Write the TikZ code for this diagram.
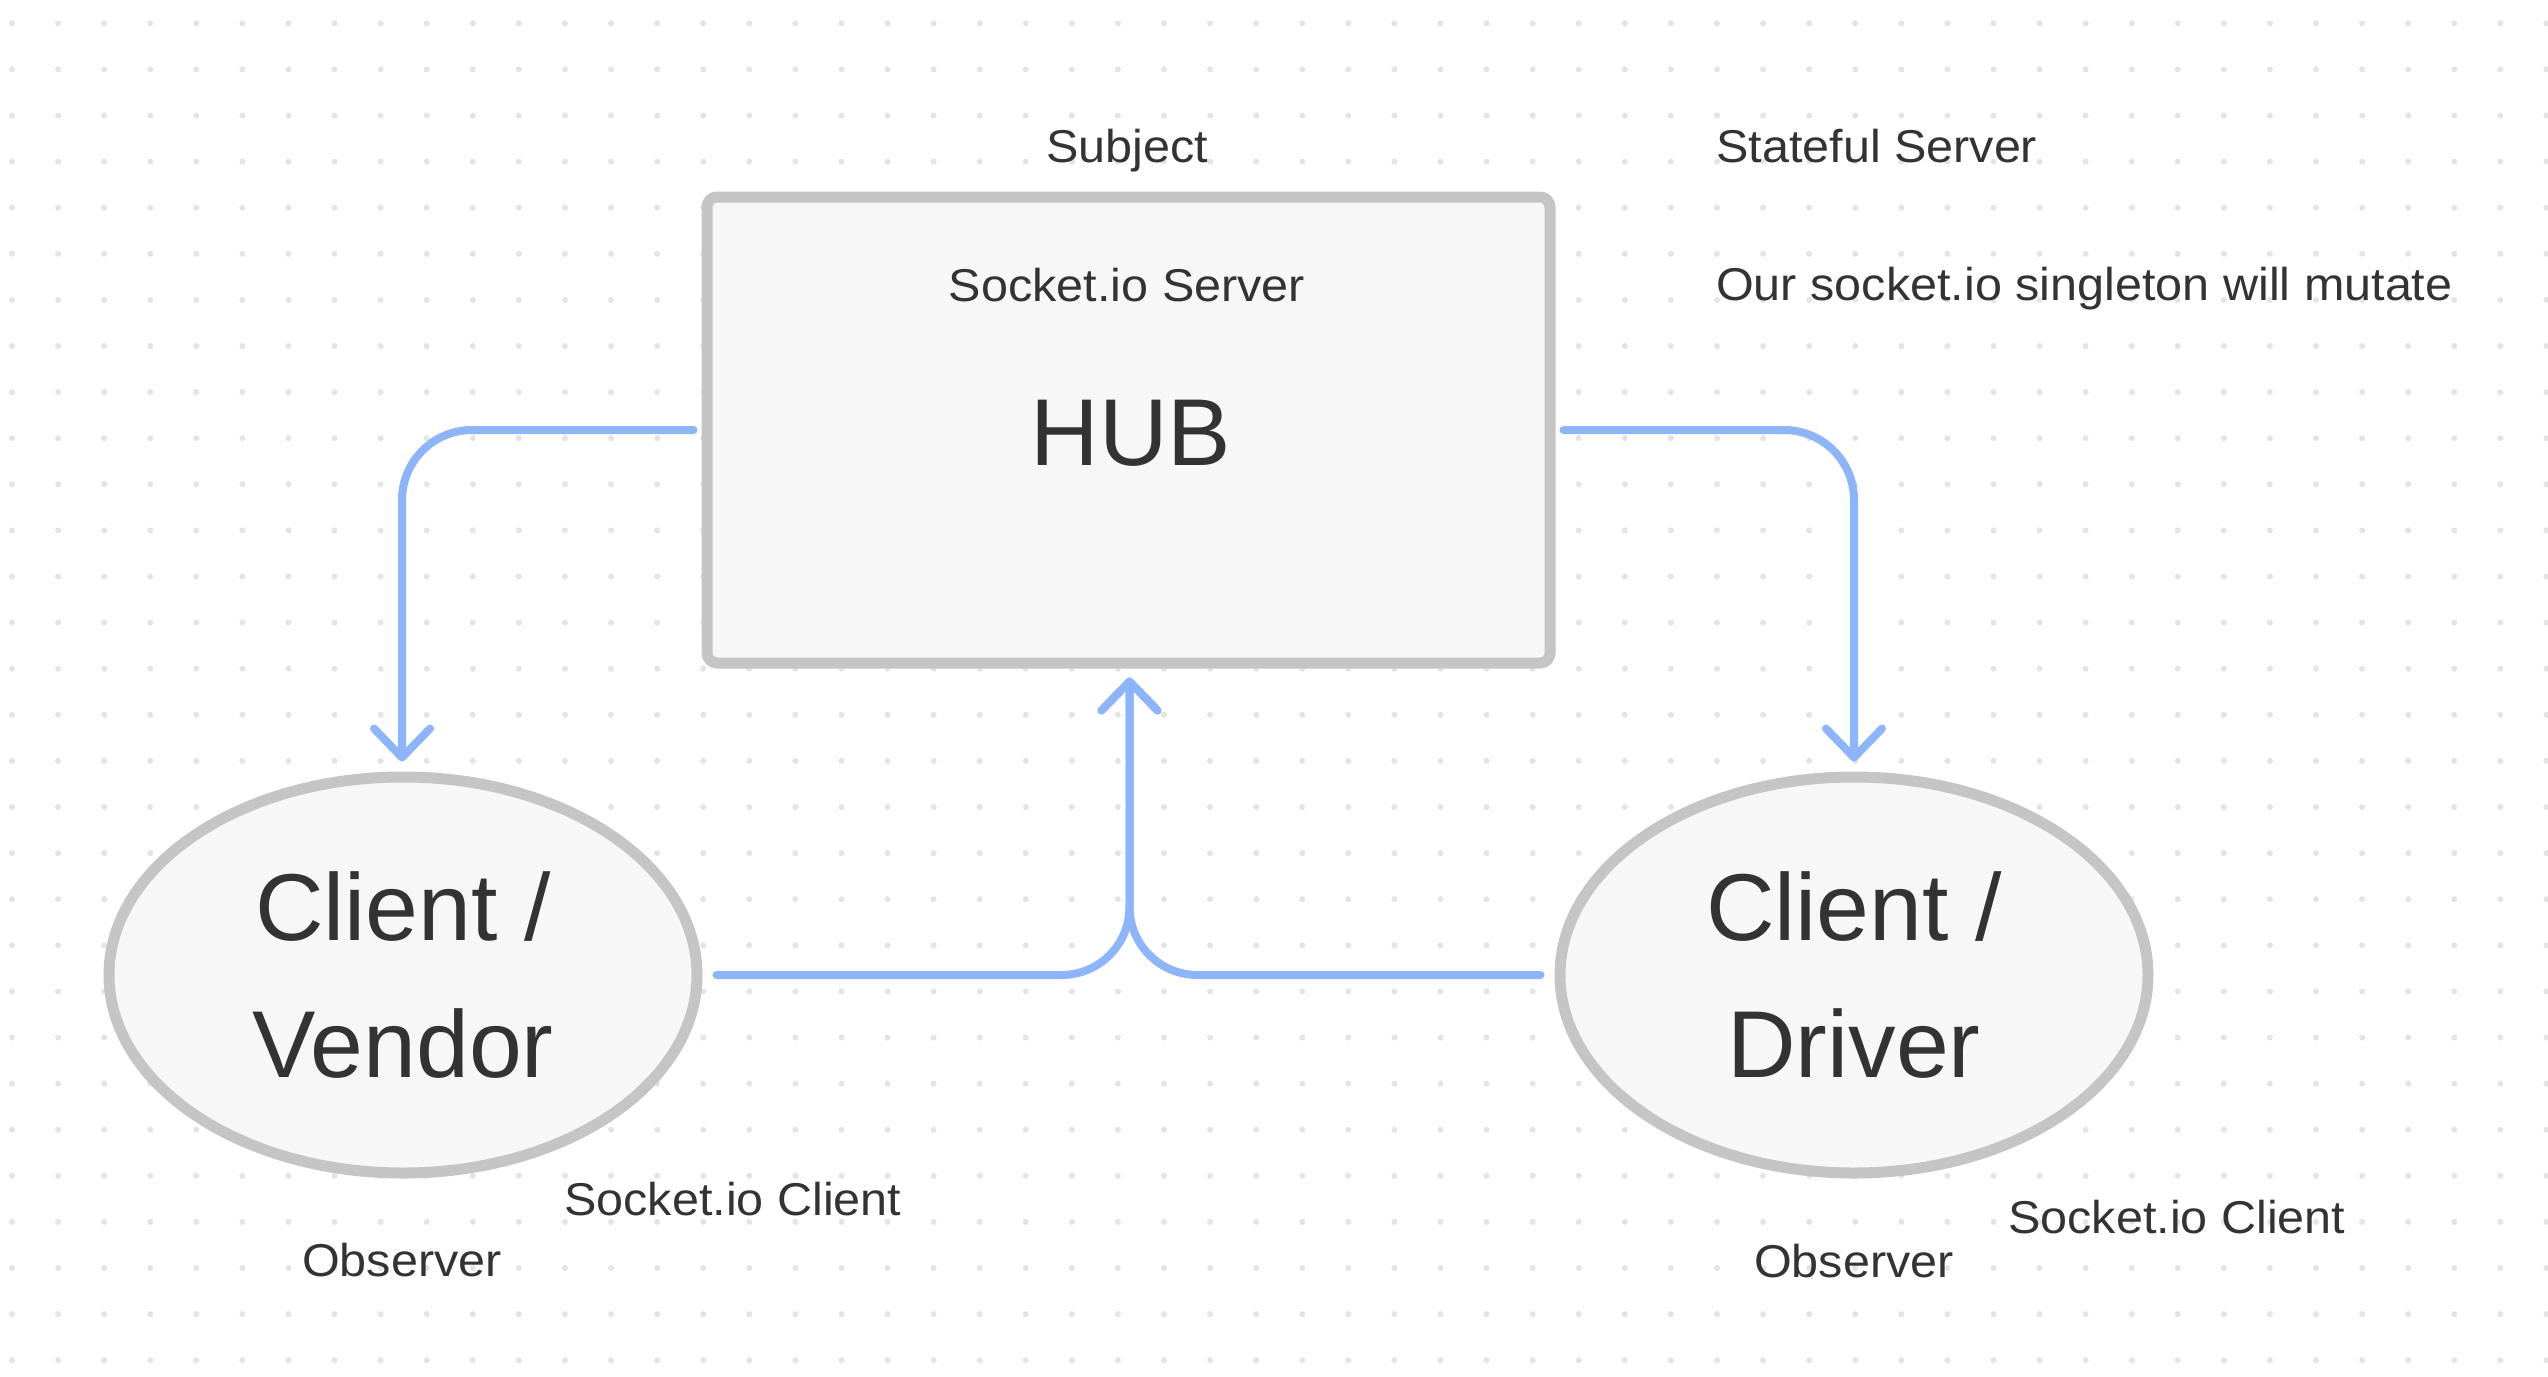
\documentclass[tikz,border=0pt]{standalone}
\usepackage{fontspec}
\setmainfont{Liberation Sans}
\newfontfamily\smallf{Liberation Sans}[FakeStretch=1.055]
\usetikzlibrary{shapes.geometric,arrows.meta,calc}
\definecolor{dotc}{HTML}{E4E4E4}
\definecolor{edgec}{HTML}{C5C5C5}
\definecolor{fillc}{HTML}{F7F7F7}
\definecolor{bluec}{HTML}{8DB5FC}
\definecolor{textc}{HTML}{333333}
\tikzset{
  boxst/.style={draw=edgec, fill=fillc, line width=11pt, rounded corners=10pt, inner sep=0pt},
  ellst/.style={ellipse, draw=edgec, fill=fillc, line width=11pt, inner sep=0pt,
    minimum width=588pt, minimum height=396pt, align=center, text=textc,
    font=\fontsize{95}{137}\selectfont},
  smalltxt/.style={text=textc, inner sep=0pt, font=\smallf\fontsize{46}{55}\selectfont},
  bigtxt/.style={text=textc, inner sep=0pt, font=\fontsize{95}{137}\selectfont},
  conn/.style={draw=bluec, line width=8pt, line cap=round, line join=round,
    rounded corners=70pt, -{Straight Barb[length=29pt,width=56pt,round]}},
}
\begin{document}
\begin{tikzpicture}[x=1pt,y=-1pt]
\useasboundingbox (0,0) rectangle (2548,1376);
\fill[white] (0,0) rectangle (2548,1376);
% dot grid
\foreach \i in {0,...,55} {
  \foreach \j in {0,...,29} {
    \fill[dotc] ({12+46.08*\i},{23.3+46.1*\j}) circle (3pt);
  }
}
% shapes
\node[boxst, minimum width=843pt, minimum height=466pt] (hub) at (1128.5,430) {};
\node[ellst] (vendor) at (403,975) {Client /\\Vendor};
\node[ellst] (driver) at (1854,975) {Client /\\Driver};
% texts
\node[smalltxt, anchor=base] (subject) at (1127,162.7) {Subject};
\node[smalltxt, anchor=base west] (stateful) at (1716,162.7) {Stateful Server};
\node[smalltxt, anchor=base west] (mutate) at (1716,300) {Our socket.io singleton will mutate};
\node[smalltxt, anchor=base] (sioserver) at (1127,301) {Socket.io Server};
\node[bigtxt, anchor=base] (hubtxt) at (1131,465) {HUB};
\node[smalltxt, anchor=base west] (sioclientl) at (564,1215.7) {Socket.io Client};
\node[smalltxt, anchor=base] (observerl) at (402,1276.7) {Observer};
\node[smalltxt, anchor=base west] (sioclientr) at (2008,1233) {Socket.io Client};
\node[smalltxt, anchor=base] (observerr) at (1854,1277.7) {Observer};
% connectors
\coordinate (hubin) at ($(hub.south)+(1,9)$);
\draw[conn] ($(hub.west)+(-8,0)$) -| ($(vendor.north)+(-1,-10)$);
\draw[conn] ($(hub.east)+(8,0)$) -| ($(driver.north)+(0,-10)$);
\draw[conn, rounded corners=68pt] ($(vendor.east)+(14,0)$) -| (hubin);
\draw[conn, rounded corners=68pt] ($(driver.west)+(-14,0)$) -| (hubin);
\end{tikzpicture}
\end{document}
